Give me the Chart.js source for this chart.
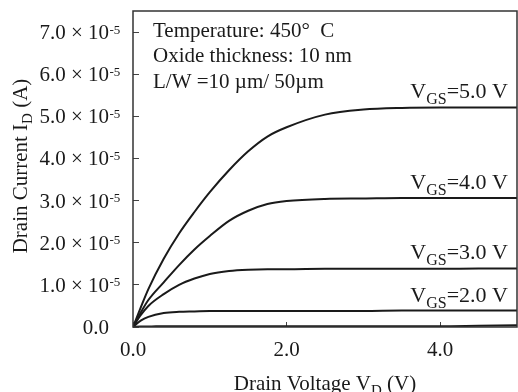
<!DOCTYPE html>
<html>
<head>
<meta charset="utf-8">
<script src="https://cdn.jsdelivr.net/npm/chart.js@4.4.1/dist/chart.umd.min.js"></script>
<style>
  html, body { margin: 0; padding: 0; background: #fff; }
  canvas { display: block; }
</style>
</head>
<body>
<canvas id="chart" width="518" height="392"></canvas>
<script>
// drain voltage (V) and drain current (units of 1e-5 A)
const vd  = [0, 0.1, 0.2, 0.4, 0.6, 0.8, 1.0, 1.25, 1.5, 1.75, 2.0, 2.5, 3.0, 3.5, 4.0, 4.5, 5.0];
const id5 = [0, 0.46, 0.90, 1.62, 2.22, 2.73, 3.20, 3.72, 4.17, 4.52, 4.74, 5.04, 5.16, 5.20, 5.21, 5.21, 5.21];
const id4 = [0, 0.34, 0.64, 1.06, 1.47, 1.84, 2.16, 2.52, 2.76, 2.92, 2.99, 3.04, 3.05, 3.06, 3.06, 3.06, 3.06];
const id3 = [0, 0.28, 0.50, 0.78, 1.00, 1.15, 1.26, 1.33, 1.36, 1.37, 1.37, 1.38, 1.38, 1.38, 1.38, 1.39, 1.39];
const id2 = [0, 0.15, 0.24, 0.33, 0.36, 0.37, 0.38, 0.38, 0.38, 0.38, 0.38, 0.38, 0.38, 0.39, 0.39, 0.39, 0.39];
const id1 = [0, 0.01, 0.01, 0.02, 0.02, 0.02, 0.02, 0.02, 0.02, 0.02, 0.02, 0.02, 0.02, 0.02, 0.02, 0.03, 0.04];

const seriesNames = ['5.0 V', '4.0 V', '3.0 V', '2.0 V', '1.0 V'];
const seriesData = [id5, id4, id3, id2, id1];
const labelled = [true, true, true, true, false];

const xTickValues = [0, 2, 4];
const xTickLabels = ['0.0', '2.0', '4.0'];
const yTickValues = [0, 1, 2, 3, 4, 5, 6, 7];
const yTickLabels = ['0.0', '1.0 \u00d7 10', '2.0 \u00d7 10', '3.0 \u00d7 10', '4.0 \u00d7 10', '5.0 \u00d7 10', '6.0 \u00d7 10', '7.0 \u00d7 10'];
const yTickExp = ['', '-5', '-5', '-5', '-5', '-5', '-5', '-5'];

const notes = ['Temperature: 450\u00b0  C', 'Oxide thickness: 10 nm', 'L/W =10 \u00b5m/ 50\u00b5m'];

const SERIF = '"Liberation Serif", "Times New Roman", serif';
const INK = '#1a1a1a';

// draws text made of pieces, some of them sub/superscript
function richText(ctx, parts, x, y, align) {
  let w = 0;
  parts.forEach(p => {
    ctx.font = p.size + 'px ' + SERIF;
    p.w = ctx.measureText(p.t).width;
    w += p.w;
  });
  let cx = align === 'right' ? x - w : align === 'center' ? x - w / 2 : x;
  ctx.textAlign = 'left';
  ctx.textBaseline = 'alphabetic';
  parts.forEach(p => {
    ctx.font = p.size + 'px ' + SERIF;
    ctx.fillText(p.t, cx, y + (p.dy || 0));
    cx += p.w;
  });
}

const decorations = {
  id: 'decorations',
  afterDraw(chart) {
    const { ctx, chartArea: a, scales } = chart;
    const xs = scales.x, ys = scales.y;
    ctx.save();

    // frame
    ctx.strokeStyle = '#333';
    ctx.lineWidth = 1.5;
    ctx.strokeRect(a.left, a.top, a.right - a.left, a.bottom - a.top);

    ctx.fillStyle = INK;

    // y tick labels with superscript exponent
    yTickValues.forEach((v, i) => {
      const y = ys.getPixelForValue(v);
      richText(ctx, [{ t: yTickLabels[i], size: 21 }], 109, y + 7, 'right');
      if (yTickExp[i]) richText(ctx, [{ t: yTickExp[i], size: 13 }], 109.5, y + 1.5, 'left');
    });

    // notes in upper left
    notes.forEach((t, i) => {
      richText(ctx, [{ t, size: 21 }], 153, 36.5 + i * 25.8, 'left');
    });

    // curve labels
    seriesData.forEach((d, i) => {
      if (!labelled[i]) return;
      const y = ys.getPixelForValue(d[d.length - 1]) - 9;
      richText(ctx, [
        { t: 'V', size: 22 },
        { t: 'GS', size: 16, dy: 6 },
        { t: '=' + seriesNames[i], size: 22 }
      ], 508, y, 'right');
    });

    // axis titles
    richText(ctx, [
      { t: 'Drain Voltage V', size: 21 },
      { t: 'D', size: 15, dy: 5 },
      { t: ' (V)', size: 21 }
    ], 325, 390, 'center');

    ctx.translate(27, 166);
    ctx.rotate(-Math.PI / 2);
    richText(ctx, [
      { t: 'Drain Current I', size: 21 },
      { t: 'D', size: 15, dy: 5 },
      { t: ' (A)', size: 21 }
    ], 0, 0, 'center');

    ctx.restore();
  }
};

new Chart(document.getElementById('chart'), {
  type: 'line',
  data: {
    datasets: seriesData.map((d, i) => ({
      label: seriesNames[i],
      data: vd.map((x, j) => ({ x, y: d[j] })),
      borderColor: INK,
      borderWidth: 2,
      pointRadius: 0,
      cubicInterpolationMode: 'monotone',
      fill: false,
    })),
  },
  options: {
    responsive: false,
    animation: false,
    events: [],
    layout: {
      padding: { left: 0, top: 11, right: 1, bottom: 0 },
    },
    plugins: {
      legend: { display: false },
      tooltip: { enabled: false },
    },
    scales: {
      x: {
        type: 'linear',
        min: 0,
        max: 5,
        afterFit: s => { s.height = 65 },
        border: { display: false },
        grid: {
          drawOnChartArea: false,
          drawTicks: true,
          tickLength: -5,
          color: '#444',
        },
        ticks: {
          stepSize: 2,
          includeBounds: false,
          padding: 16,
          color: INK,
          font: { family: SERIF, size: 21 },
          callback: v => {
            const k = xTickValues.indexOf(v);
            return k < 0 ? '' : xTickLabels[k];
          },
        },
      },
      y: {
        type: 'linear',
        min: 0,
        max: 7.5,
        afterFit: s => { s.width = 133 },
        border: { display: false },
        grid: {
          drawOnChartArea: false,
          drawTicks: true,
          tickLength: -6,
          color: '#444',
        },
        ticks: {
          stepSize: 1,
          includeBounds: false,
          display: false,
        },
      },
    },
  },
  plugins: [decorations],
})
</script>
</body>
</html>
